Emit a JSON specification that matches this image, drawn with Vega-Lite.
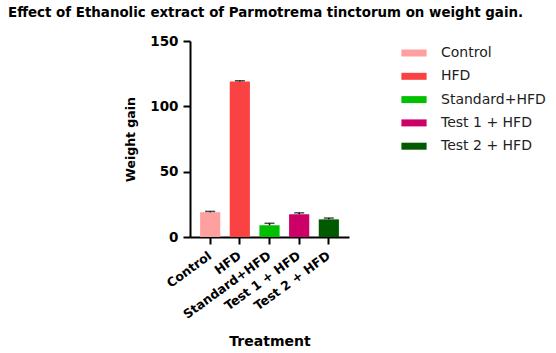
{
  "$schema": "https://vega.github.io/schema/vega-lite/v6.json",
  "width": 159,
  "height": 196,
  "autosize": {"type": "none"},
  "padding": {"left": 190, "top": 41, "right": 207, "bottom": 116},
  "background": "white",
  "title": {
    "text": "Effect of Ethanolic extract of Parmotrema tinctorum on weight gain.",
    "anchor": "start",
    "frame": "group",
    "dx": -182,
    "offset": 15,
    "limit": 600,
    "font": "DejaVu Sans",
    "fontSize": 13.4,
    "fontWeight": "bold",
    "color": "black"
  },
  "config": {
    "view": {"stroke": null},
    "font": "DejaVu Sans"
  },
  "data": {
    "values": [
      {"group": "Control", "value": 19, "upper": 19.6},
      {"group": "HFD", "value": 119, "upper": 119.6},
      {"group": "Standard+HFD", "value": 9, "upper": 10.5},
      {"group": "Test 1 + HFD", "value": 17.5, "upper": 18.5},
      {"group": "Test 2 + HFD", "value": 13.5, "upper": 14.5}
    ]
  },
  "encoding": {
    "x": {
      "field": "group",
      "type": "nominal",
      "sort": null,
      "scale": {"paddingInner": 0.32, "paddingOuter": 0.34},
      "axis": {
        "title": "Treatment",
        "titleFont": "DejaVu Sans",
        "titleFontSize": 14,
        "titleFontWeight": "bold",
        "titleColor": "black",
        "titlePadding": 14,
        "labelAngle": -36,
        "labelAlign": "right",
        "labelBaseline": "middle",
        "labelFont": "DejaVu Sans",
        "labelFontSize": 12.5,
        "labelFontWeight": "bold",
        "labelColor": "black",
        "labelPadding": 10,
        "domainColor": "black",
        "domainWidth": 2,
        "tickColor": "black",
        "tickWidth": 2,
        "tickSize": 7
      }
    }
  },
  "layer": [
    {
      "mark": {"type": "bar"},
      "encoding": {
        "y": {
          "field": "value",
          "type": "quantitative",
          "scale": {"domain": [0, 150], "nice": false},
          "axis": {
            "title": "Weight gain",
            "values": [0, 50, 100, 150],
            "grid": false,
            "titleFont": "DejaVu Sans",
            "titleFontSize": 12.5,
            "titleFontWeight": "bold",
            "titleColor": "black",
            "titlePadding": 12,
            "labelFont": "DejaVu Sans",
            "labelFontSize": 13.5,
            "labelFontWeight": "bold",
            "labelColor": "black",
            "labelPadding": 5,
            "domainColor": "black",
            "domainWidth": 2,
            "tickColor": "black",
            "tickWidth": 2,
            "tickSize": 7
          }
        },
        "color": {
          "field": "group",
          "type": "nominal",
          "sort": null,
          "scale": {
            "domain": ["Control", "HFD", "Standard+HFD", "Test 1 + HFD", "Test 2 + HFD"],
            "range": ["#FFA0A0", "#FA4242", "#00C000", "#CC0066", "#005A00"]
          },
          "legend": {
            "title": null,
            "orient": "none",
            "legendX": 217,
            "legendY": 5,
            "symbolType": "M-3.6,-1L3.6,-1L3.6,1L-3.6,1Z",
            "symbolSize": 49,
            "symbolStrokeWidth": 0,
            "symbolOpacity": 1,
            "labelFont": "DejaVu Sans",
            "labelFontSize": 14,
            "labelColor": "#222222",
            "labelOffset": 20,
            "rowPadding": 9.3
          }
        }
      }
    },
    {
      "mark": {"type": "rule", "color": "black", "strokeWidth": 1.5},
      "encoding": {
        "y": {"field": "value", "type": "quantitative"},
        "y2": {"field": "upper"}
      }
    },
    {
      "mark": {"type": "tick", "color": "black", "size": 10, "thickness": 1.5},
      "encoding": {
        "y": {"field": "upper", "type": "quantitative"}
      }
    }
  ]
}
